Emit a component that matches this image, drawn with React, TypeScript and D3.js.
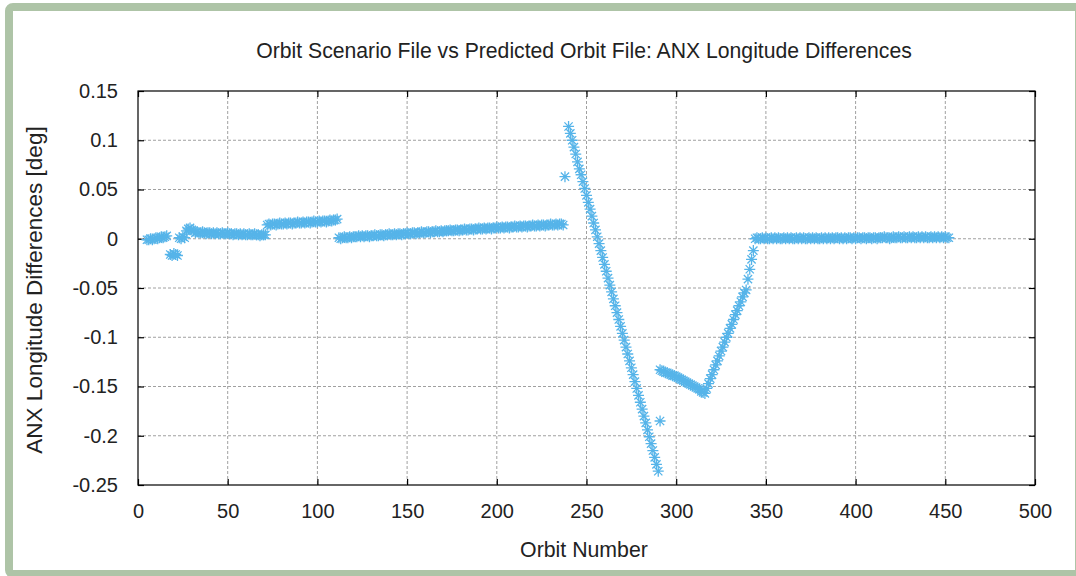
import React, { useRef, useEffect } from 'react';
import * as d3 from 'd3';

// Chart dimensions
const WIDTH = 1076;
const HEIGHT = 576;

const TITLE = 'Orbit Scenario File vs Predicted Orbit File: ANX Longitude Differences';
const X_LABEL = 'Orbit Number';
const Y_LABEL = 'ANX Longitude Differences [deg]';

const xTicks = [0, 50, 100, 150, 200, 250, 300, 350, 400, 450, 500];
const yTicks = [0.15, 0.1, 0.05, 0, -0.05, -0.1, -0.15, -0.2, -0.25];

// Runs of consecutive orbits: first orbit number and the differences read per orbit
const runStarts = [5, 18, 23, 27, 32, 72, 112, 240, 291, 317, 344];

const runA = [-0.001, -0.001, 0.0, -0.001, 0.0, 0.001, 0.0, 0.001, 0.002, 0.001, 0.002, 0.003];
const runB = [-0.016, -0.017, -0.015, -0.016, -0.017];
const runC = [0.001, 0.0, 0.002, 0.001];
const runD = [0.008, 0.01, 0.011, 0.009, 0.008];
const runE = [
  0.006, 0.007, 0.006, 0.006, 0.007, 0.006, 0.005, 0.006, 0.006, 0.005,
  0.006, 0.005, 0.006, 0.005, 0.005, 0.006, 0.005, 0.005, 0.006, 0.005,
  0.005, 0.004, 0.005, 0.005, 0.004, 0.005, 0.004, 0.005, 0.004, 0.004,
  0.005, 0.004, 0.004, 0.005, 0.004, 0.004, 0.003, 0.004, 0.004, 0.004
];
const runF = [
  0.014, 0.015, 0.014, 0.015, 0.015, 0.014, 0.015, 0.016, 0.015, 0.015,
  0.016, 0.015, 0.016, 0.016, 0.015, 0.016, 0.016, 0.017, 0.016, 0.016,
  0.017, 0.016, 0.017, 0.017, 0.016, 0.017, 0.018, 0.017, 0.017, 0.018,
  0.017, 0.018, 0.018, 0.017, 0.018, 0.019, 0.018, 0.019, 0.019, 0.02
];
const runG = [
  0.001, 0.0, 0.001, 0.002, 0.001, 0.001, 0.002, 0.001, 0.002, 0.002,
  0.002, 0.003, 0.002, 0.003, 0.002, 0.003, 0.003, 0.002, 0.003, 0.003,
  0.004, 0.003, 0.003, 0.004, 0.004, 0.003, 0.004, 0.004, 0.005, 0.004,
  0.004, 0.005, 0.004, 0.005, 0.005, 0.004, 0.005, 0.005, 0.006, 0.005,
  0.005, 0.006, 0.006, 0.005, 0.006, 0.006, 0.007, 0.006, 0.006, 0.007,
  0.007, 0.006, 0.007, 0.007, 0.008, 0.007, 0.007, 0.008, 0.007, 0.008,
  0.008, 0.008, 0.009, 0.008, 0.008, 0.009, 0.009, 0.008, 0.009, 0.009,
  0.01, 0.009, 0.009, 0.01, 0.01, 0.009, 0.01, 0.01, 0.011, 0.01,
  0.01, 0.011, 0.01, 0.011, 0.011, 0.01, 0.011, 0.011, 0.012, 0.011,
  0.011, 0.012, 0.011, 0.012, 0.012, 0.011, 0.012, 0.012, 0.013, 0.012,
  0.012, 0.013, 0.012, 0.013, 0.013, 0.012, 0.013, 0.013, 0.014, 0.013,
  0.013, 0.014, 0.013, 0.014, 0.014, 0.013, 0.014, 0.014, 0.015, 0.014,
  0.014, 0.015, 0.014, 0.015, 0.015, 0.014
];
const runH = [
  0.114, 0.107, 0.1, 0.093, 0.086, 0.078, 0.071, 0.065, 0.058, 0.051,
  0.044, 0.037, 0.03, 0.023, 0.016, 0.009, 0.002, -0.005, -0.012, -0.019,
  -0.026, -0.033, -0.04, -0.047, -0.054, -0.061, -0.068, -0.075, -0.082, -0.089,
  -0.096, -0.103, -0.11, -0.117, -0.124, -0.131, -0.138, -0.145, -0.152, -0.159,
  -0.166, -0.173, -0.18, -0.187, -0.194, -0.201, -0.208, -0.215, -0.222, -0.229,
  -0.236
];
const runI = [
  -0.133, -0.134, -0.135, -0.136, -0.136, -0.137, -0.138, -0.139, -0.139, -0.14,
  -0.141, -0.142, -0.143, -0.144, -0.145, -0.146, -0.147, -0.148, -0.149, -0.15,
  -0.151, -0.152, -0.153, -0.155, -0.156, -0.157
];
const runJ = [
  -0.152, -0.147, -0.142, -0.138, -0.133, -0.128, -0.124, -0.119, -0.114, -0.11,
  -0.105, -0.1, -0.096, -0.091, -0.087, -0.082, -0.077, -0.073, -0.068, -0.064,
  -0.059, -0.055, -0.052, -0.041, -0.031, -0.021, -0.012
];
const runK = [
  0.0, 0.001, 0.0, 0.0, 0.001, 0.0, 0.001, 0.0, 0.0, 0.001,
  0.0, 0.001, 0.0, 0.001, 0.0, 0.0, 0.001, 0.0, 0.001, 0.0,
  0.001, 0.0, 0.0, 0.001, 0.0, 0.001, 0.0, 0.001, 0.0, 0.0,
  0.001, 0.0, 0.001, 0.0, 0.001, 0.0, 0.0, 0.001, 0.0, 0.001,
  0.0, 0.001, 0.0, 0.001, 0.0, 0.001, 0.001, 0.0, 0.001, 0.0,
  0.001, 0.0, 0.001, 0.001, 0.0, 0.001, 0.0, 0.001, 0.001, 0.0,
  0.001, 0.001, 0.0, 0.001, 0.001, 0.0, 0.001, 0.001, 0.0, 0.001,
  0.001, 0.001, 0.002, 0.001, 0.001, 0.0, 0.001, 0.002, 0.001, 0.001,
  0.002, 0.001, 0.001, 0.002, 0.001, 0.001, 0.002, 0.001, 0.002, 0.001,
  0.001, 0.002, 0.001, 0.002, 0.001, 0.002, 0.001, 0.001, 0.002, 0.001,
  0.002, 0.001, 0.002, 0.001, 0.002, 0.001, 0.002, 0.001, 0.001
];
const runValues = [runA, runB, runC, runD, runE, runF, runG, runH, runI, runJ, runK];

// Isolated points off the main runs
const outlierOrbits = [238, 291];
const outlierValues = [0.063, -0.185];

interface Point {
  orbit: number;
  value: number;
}

const App: React.FC = () => {
  const svgRef = useRef<SVGSVGElement>(null);

  useEffect(() => {
    if (!svgRef.current) return;
    const svg = d3.select(svgRef.current);
    svg.selectAll('*').remove();

    const margin = { top: 91, right: 41, bottom: 91, left: 138 };
    const innerWidth = WIDTH - margin.left - margin.right;
    const innerHeight = HEIGHT - margin.top - margin.bottom;
    const font = '"Liberation Sans", Arial, sans-serif';
    const textColor = '#222';
    const labelCenterX = 584;

    // green frame around the whole figure
    svg.append('rect')
      .attr('x', 9).attr('y', 7)
      .attr('width', 1070).attr('height', 567)
      .attr('rx', 4)
      .attr('fill', '#fff')
      .attr('stroke', '#aec4a7')
      .attr('stroke-width', 8);

    const xScale = d3.scaleLinear().domain([0, 500]).range([0, innerWidth]);
    const yScale = d3.scaleLinear().domain([-0.25, 0.15]).range([innerHeight, 0]);

    const g = svg.append('g')
      .attr('transform', `translate(${margin.left}, ${margin.top})`);

    // dashed grid
    g.append('g')
      .selectAll('line')
      .data(xTicks.slice(1, -1))
      .join('line')
      .attr('x1', d => xScale(d)).attr('x2', d => xScale(d))
      .attr('y1', 0).attr('y2', innerHeight)
      .attr('stroke', '#a0a0a0')
      .attr('stroke-dasharray', '3,2');

    g.append('g')
      .selectAll('line')
      .data(yTicks.slice(1, -1))
      .join('line')
      .attr('x1', 0).attr('x2', innerWidth)
      .attr('y1', d => yScale(d)).attr('y2', d => yScale(d))
      .attr('stroke', '#a0a0a0')
      .attr('stroke-dasharray', '3,2');

    // axes with inward ticks, mirrored on top and right
    const xAxis = d3.axisBottom(xScale).tickValues(xTicks).tickSize(-6).tickPadding(19).tickFormat(d3.format('d'));
    const xAxisTop = d3.axisTop(xScale).tickValues(xTicks).tickSize(-6).tickFormat(() => '');
    const yAxis = d3.axisLeft(yScale).tickValues(yTicks).tickSize(-6).tickPadding(20).tickFormat(d => `${+d}`);
    const yAxisRight = d3.axisRight(yScale).tickValues(yTicks).tickSize(-6).tickFormat(() => '');

    const styleAxis = (sel: d3.Selection<SVGGElement, unknown, null, undefined>) => {
      sel.select('.domain').remove();
      sel.selectAll('.tick line').attr('stroke', '#000').attr('stroke-width', 1.2);
      sel.selectAll('.tick text')
        .attr('fill', textColor)
        .style('font-family', font)
        .style('font-size', '20px');
    };

    g.append('g').attr('transform', `translate(0, ${innerHeight})`).call(xAxis).call(styleAxis);
    g.append('g').call(xAxisTop).call(styleAxis);
    g.append('g').call(yAxis).call(styleAxis);
    g.append('g').attr('transform', `translate(${innerWidth}, 0)`).call(yAxisRight).call(styleAxis);

    // plot border
    g.append('rect')
      .attr('width', innerWidth).attr('height', innerHeight)
      .attr('fill', 'none')
      .attr('stroke', '#000')
      .attr('stroke-width', 1.2);

    // build the point table from the runs
    const points: Point[] = [];
    runStarts.forEach((start, r) => {
      runValues[r].forEach((value, i) => points.push({ orbit: start + i, value }));
    });
    outlierOrbits.forEach((orbit, i) => points.push({ orbit, value: outlierValues[i] }));

    // gnuplot-style star marker (+ and x)
    const r = 5.5;
    const rd = r * 0.75;
    const star = `M${-r},0L${r},0M0,${-r}L0,${r}M${-rd},${-rd}L${rd},${rd}M${-rd},${rd}L${rd},${-rd}`;

    g.append('g')
      .selectAll('path')
      .data(points)
      .join('path')
      .attr('transform', d => `translate(${xScale(d.orbit)}, ${yScale(d.value)})`)
      .attr('d', star)
      .attr('fill', 'none')
      .attr('stroke', '#56b4e9')
      .attr('stroke-width', 1.3);

    // title and axis labels
    svg.append('text')
      .attr('x', labelCenterX)
      .attr('y', 58)
      .attr('text-anchor', 'middle')
      .attr('fill', textColor)
      .style('font-family', font)
      .style('font-size', '21.2px')
      .text(TITLE);

    svg.append('text')
      .attr('x', labelCenterX)
      .attr('y', 557)
      .attr('text-anchor', 'middle')
      .attr('fill', textColor)
      .style('font-family', font)
      .style('font-size', '21.3px')
      .text(X_LABEL);

    svg.append('text')
      .attr('transform', `translate(42, 290) rotate(-90)`)
      .attr('text-anchor', 'middle')
      .attr('fill', textColor)
      .style('font-family', font)
      .style('font-size', '22.5px')
      .text(Y_LABEL);
  }, []);

  return (
    <svg
      ref={svgRef}
      width={WIDTH}
      height={HEIGHT}
      style={{ position: 'absolute', left: 0, top: 0, background: '#fff' }}
    />
  );
};

export default App;
